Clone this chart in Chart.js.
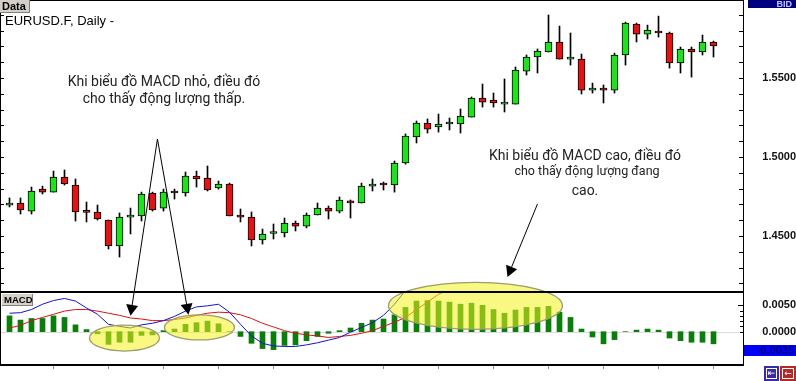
<!DOCTYPE html>
<html>
<head>
<meta charset="utf-8">
<script src="https://cdn.jsdelivr.net/npm/chart.js@4.4.1/dist/chart.umd.min.js"></script>
<style>
  html, body { margin: 0; padding: 0; background: #fff; }
</style>
</head>
<body>
<canvas id="macdChart" width="796" height="381"></canvas>
<script>
// EURUSD.F daily candles
const opens = [
  1.4696, 1.4709, 1.4658, 1.4797, 1.4778, 1.4873, 1.4823, 1.4655, 1.4652, 1.4601,
  1.4437, 1.4620, 1.4627, 1.4772, 1.4677, 1.4785, 1.4772, 1.4880, 1.4867, 1.4804,
  1.4829, 1.4633, 1.4620, 1.4475, 1.4516, 1.4519, 1.4582, 1.4563, 1.4633, 1.4677,
  1.4658, 1.4722, 1.4709, 1.4816, 1.4835, 1.4823, 1.4962, 1.5127, 1.5215, 1.5190,
  1.5209, 1.5209, 1.5253, 1.5373, 1.5361, 1.5335, 1.5335, 1.5544, 1.5633, 1.5665,
  1.5728, 1.5620, 1.5620, 1.5424, 1.5437, 1.5424, 1.5646, 1.5842, 1.5778, 1.5797,
  1.5785, 1.5595, 1.5684, 1.5665, 1.5728
];
const highs = [
  1.4741, 1.4741, 1.4810, 1.4816, 1.4911, 1.4918, 1.4861, 1.4715, 1.4696, 1.4601,
  1.4646, 1.4677, 1.4778, 1.4778, 1.4797, 1.4797, 1.4905, 1.4911, 1.4943, 1.4848,
  1.4835, 1.4671, 1.4652, 1.4544, 1.4576, 1.4614, 1.4595, 1.4646, 1.4709, 1.4690,
  1.4747, 1.4728, 1.4835, 1.4861, 1.4842, 1.4975, 1.5146, 1.5228, 1.5241, 1.5272,
  1.5247, 1.5304, 1.5380, 1.5462, 1.5405, 1.5494, 1.5570, 1.5646, 1.5684, 1.5899,
  1.5829, 1.5785, 1.5652, 1.5468, 1.5456, 1.5658, 1.5854, 1.5848, 1.5835, 1.5892,
  1.5791, 1.5696, 1.5696, 1.5772, 1.5734
];
const lows = [
  1.4684, 1.4639, 1.4639, 1.4766, 1.4778, 1.4823, 1.4595, 1.4589, 1.4601, 1.4418,
  1.4367, 1.4513, 1.4595, 1.4658, 1.4658, 1.4734, 1.4753, 1.4810, 1.4785, 1.4797,
  1.4627, 1.4589, 1.4437, 1.4449, 1.4481, 1.4494, 1.4532, 1.4551, 1.4633, 1.4608,
  1.4646, 1.4614, 1.4709, 1.4785, 1.4791, 1.4778, 1.4955, 1.5089, 1.5152, 1.5158,
  1.5171, 1.5152, 1.5253, 1.5316, 1.5316, 1.5285, 1.5335, 1.5519, 1.5532, 1.5665,
  1.5620, 1.5582, 1.5399, 1.5405, 1.5342, 1.5405, 1.5582, 1.5728, 1.5747, 1.5759,
  1.5563, 1.5532, 1.5506, 1.5646, 1.5633
];
const closes = [
  1.4709, 1.4665, 1.4785, 1.4778, 1.4873, 1.4829, 1.4652, 1.4650, 1.4608, 1.4437,
  1.4620, 1.4622, 1.4766, 1.4665, 1.4778, 1.4772, 1.4880, 1.4861, 1.4791, 1.4829,
  1.4627, 1.4620, 1.4475, 1.4513, 1.4519, 1.4582, 1.4563, 1.4633, 1.4677, 1.4658,
  1.4728, 1.4709, 1.4816, 1.4829, 1.4823, 1.4962, 1.5133, 1.5215, 1.5177, 1.5209,
  1.5212, 1.5259, 1.5373, 1.5348, 1.5342, 1.5338, 1.5551, 1.5633, 1.5671, 1.5728,
  1.5620, 1.5623, 1.5424, 1.5437, 1.5424, 1.5646, 1.5848, 1.5778, 1.5804, 1.5785,
  1.5595, 1.5684, 1.5665, 1.5728, 1.5703
];

// MACD panel
const histogram = [
  0.0030, 0.0022, 0.0025, 0.0025, 0.0030, 0.0027, 0.0013, 0.0004, -0.0004, -0.0024,
  -0.0020, -0.0020, -0.0007, -0.0006, 0.0002, 0.0005, 0.0014, 0.0017, 0.0020, 0.0015,
  0.0000, -0.0009, -0.0022, -0.0032, -0.0034, -0.0026, -0.0025, -0.0017, -0.0009, -0.0003,
  0.0002, 0.0007, 0.0016, 0.0022, 0.0024, 0.0032, 0.0046, 0.0058, 0.0059, 0.0058,
  0.0056, 0.0052, 0.0054, 0.0050, 0.0042, 0.0035, 0.0041, 0.0046, 0.0046, 0.0048,
  0.0037, 0.0027, 0.0005, -0.0010, -0.0023, -0.0015, 0.0000, 0.0003, 0.0005, 0.0003,
  -0.0012, -0.0017, -0.0020, -0.0020, -0.0023
];
// lines leave the top of the panel and are not seen again
const macdLine = [
  0.0035, 0.0036, 0.0042, 0.0052, 0.0059, 0.0063, 0.0058, 0.0045, 0.0033, 0.0014,
  0.0010, 0.0007, 0.0013, 0.0016, 0.0021, 0.0029, 0.0039, 0.0047, 0.0049, 0.0052,
  0.0037, 0.0014, -0.0008, -0.0022, -0.0027, -0.0028, -0.0028, -0.0025, -0.0021, -0.0016,
  -0.0011, -0.0001, 0.0008, 0.0017, 0.0031, 0.0052, 0.0078
];
const signalLine = [
  0.0007, 0.0012, 0.0021, 0.0027, 0.0033, 0.0039, 0.0042, 0.0042, 0.0039, 0.0035,
  0.0031, 0.0026, 0.0024, 0.0021, 0.0021, 0.0023, 0.0026, 0.0031, 0.0035, 0.0037,
  0.0036, 0.0032, 0.0025, 0.0016, 0.0009, 0.0002, -0.0003, -0.0006, -0.0008, -0.0011,
  -0.0009, -0.0007, -0.0003, 0.0002, 0.0010, 0.0018, 0.0027, 0.0042, 0.0056, 0.0071,
  0.0080
];

// axis ticks
const priceTicks = [1.42, 1.43, 1.44, 1.45, 1.46, 1.47, 1.48, 1.49, 1.50, 1.51,
                    1.52, 1.53, 1.54, 1.55, 1.56, 1.57, 1.58, 1.59];
const priceLabels = [1.45, 1.50, 1.55];
const macdTicks = [0, 0.001, 0.002, 0.003, 0.004, 0.005];
const macdLabels = [0, 0.005];
const dayTicks = [4, 9, 14, 19, 24, 29, 34, 39, 44, 49, 54, 59, 64];

const lowNote = ['Khi biểu đồ MACD nhỏ, điều đó', 'cho thấy động lượng thấp.'];
const highNote = ['Khi biểu đồ MACD cao, điều đó', 'cho thấy động lượng đang', 'cao.'];

const bodyColors = closes.map((c, i) => c >= opens[i] ? '#20e020' : '#e01414');

function drawArrow(ctx, x0, y0, x1, y1) {
  const a = Math.atan2(y1 - y0, x1 - x0);
  const len = 11, half = 6;
  const bx = x1 - len * Math.cos(a), by = y1 - len * Math.sin(a);
  ctx.beginPath();
  ctx.moveTo(x0, y0);
  ctx.lineTo(bx, by);
  ctx.stroke();
  ctx.beginPath();
  ctx.moveTo(x1, y1);
  ctx.lineTo(bx + half * Math.sin(a), by - half * Math.cos(a));
  ctx.lineTo(bx - half * Math.sin(a), by + half * Math.cos(a));
  ctx.closePath();
  ctx.fill();
}

function tab(ctx, x, y, w, h, text, size) {
  ctx.fillStyle = '#d4d0c8';
  ctx.fillRect(x, y, w, h);
  ctx.fillStyle = '#808080';
  ctx.fillRect(x + w - 1, y, 1, h);
  ctx.fillRect(x, y + h - 1, w, 1);
  ctx.fillStyle = '#000';
  ctx.font = 'bold ' + size + 'px "Liberation Sans"';
  ctx.textAlign = 'left';
  ctx.textBaseline = 'middle';
  ctx.fillText(text, x + 2, y + h / 2 + 0.5);
}

const overlay = {
  id: 'overlay',
  beforeDatasetsDraw(chart) {
    const {ctx, chartArea} = chart;
    const z = Math.round(chart.scales.y2.getPixelForValue(0)) + 0.5;
    ctx.save();
    ctx.strokeStyle = '#dcdcdc';
    ctx.lineWidth = 1;
    ctx.beginPath();
    ctx.moveTo(chartArea.left, z);
    ctx.lineTo(chartArea.right, z);
    ctx.stroke();
    ctx.restore();
  },
  afterDraw(chart) {
    const {ctx, chartArea} = chart;
    const {x, y, y2} = chart.scales;
    ctx.save();

    // highlight ellipses
    const ellipses = [
      {i: 10.45, v: -0.0012, rx: 35, ry: 13},
      {i: 17.27, v: 0.0008, rx: 35, ry: 12.5},
      {i: 42.36, v: 0.0049, rx: 87, ry: 23.5}
    ];
    ellipses.forEach(e => {
      ctx.beginPath();
      ctx.ellipse(x.getPixelForValue(e.i), y2.getPixelForValue(e.v), e.rx, e.ry, 0, 0, Math.PI * 2);
      ctx.fillStyle = 'rgba(242,242,30,0.55)';
      ctx.fill();
      ctx.strokeStyle = '#9c9c6c';
      ctx.lineWidth = 1.3;
      ctx.stroke();
    });

    // frame
    const right = chartArea.right;
    ctx.fillStyle = '#000';
    ctx.fillRect(0, 0, right + 1, 1);
    ctx.fillRect(0, 0, 1, chartArea.bottom + 1);
    ctx.fillRect(0, y.bottom - 1, right + 1, 2);
    ctx.fillRect(0, chartArea.bottom - 1, right + 1, 2);
    ctx.fillRect(right, 0, 1, chartArea.bottom + 1);

    // inner tick marks on both edges
    priceTicks.forEach(v => {
      const py = Math.round(y.getPixelForValue(v));
      ctx.fillRect(right - 4, py, 4, 1);
      ctx.fillRect(1, py, 3, 1);
    });
    macdTicks.forEach(v => {
      const py = Math.round(y2.getPixelForValue(v));
      const w = v === 0.005 ? 5 : 3;
      ctx.fillRect(right - w, py, w, 1);
    });

    // arrows
    ctx.strokeStyle = '#000';
    ctx.fillStyle = '#000';
    ctx.lineWidth = 1;
    const ax = x.getPixelForValue(13.45), ay = y.getPixelForValue(1.5114);
    drawArrow(ctx, ax, ay, x.getPixelForValue(11.0), y2.getPixelForValue(0.0030));
    drawArrow(ctx, ax, ay, x.getPixelForValue(16.27), y2.getPixelForValue(0.0032));
    drawArrow(ctx, x.getPixelForValue(48.0), y.getPixelForValue(1.4703),
              x.getPixelForValue(45.27), y.getPixelForValue(1.4240));

    // notes
    ctx.fillStyle = '#222';
    ctx.textAlign = 'center';
    ctx.textBaseline = 'middle';
    ctx.font = '14px Roboto';
    ctx.fillText(lowNote[0], 164, 82);
    ctx.fillText(lowNote[1], 164, 99);
    ctx.fillText(highNote[0], 585, 156);
    ctx.font = '12.5px Roboto';
    ctx.fillText(highNote[1], 587, 172);
    ctx.font = '14px Roboto';
    ctx.fillText(highNote[2], 585, 191);

    // title and tabs
    ctx.fillStyle = '#000';
    ctx.textAlign = 'left';
    ctx.font = '13px "Liberation Sans"';
    ctx.fillText('EURUSD.F, Daily -', 5, 21);
    tab(ctx, 0, 0, 30, 13, 'Data', 11);
    tab(ctx, 2, 294, 31, 12, 'MACD', 9.5);

    // BID box
    ctx.fillStyle = '#000080';
    ctx.fillRect(right + 5, 0, chart.width - right - 5, 8);
    ctx.fillStyle = '#c8c8ff';
    ctx.font = 'bold 9px "Liberation Sans"';
    ctx.textAlign = 'right';
    ctx.fillText('BID', chart.width - 4, 4.5);

    // last MACD value marker
    const my = y2.getPixelForValue(-0.0035);
    ctx.fillStyle = '#0000ff';
    ctx.fillRect(right + 1, Math.round(my) - 5, chart.width - right - 1, 11);
    ctx.fillStyle = '#000070';
    ctx.font = 'bold 11px "Liberation Sans"';
    ctx.fillText('-0.0035', chart.width - 2, my + 0.5);

    // scroll buttons
    const by = chartArea.bottom + 1;
    ctx.fillStyle = '#3a2aa6';
    ctx.fillRect(764, by, 15, 15);
    ctx.fillStyle = '#b42828';
    ctx.fillRect(780, by, 16, 15);
    ctx.strokeStyle = '#fff';
    ctx.lineWidth = 1;
    ctx.strokeRect(766.5, by + 2.5, 10, 10);
    ctx.strokeRect(782.5, by + 2.5, 11, 10);
    ctx.fillStyle = '#fff';
    ctx.font = '9px "DejaVu Sans"';
    ctx.textAlign = 'center';
    ctx.fillText('⇤', 771.5, by + 8);
    ctx.fillText('←', 788, by + 8);

    ctx.restore();
  }
};

const yFit = s => { s.width = 53; s.paddingTop = 0; s.paddingBottom = 0; };
const tickFont = {family: 'Liberation Sans', weight: 'bold', size: 11};

new Chart(document.getElementById('macdChart'), {
  type: 'bar',
  data: {
    datasets: [
      {
        type: 'line', label: 'MACD', yAxisID: 'y2', order: 0,
        data: macdLine.map((v, i) => ({x: i, y: v})),
        borderColor: '#1414c8', borderWidth: 1, pointRadius: 0, tension: 0
      },
      {
        type: 'line', label: 'Signal', yAxisID: 'y2', order: 1,
        data: signalLine.map((v, i) => ({x: i, y: v})),
        borderColor: '#d41414', borderWidth: 1, pointRadius: 0, tension: 0
      },
      {
        label: 'Histogram', yAxisID: 'y2', order: 2, grouped: false,
        data: histogram.map((v, i) => ({x: i, y: v})),
        backgroundColor: '#0a7d0a', barThickness: 5, maxBarThickness: 5
      },
      {
        label: 'Body', yAxisID: 'y', order: 3, grouped: false,
        data: opens.map((o, i) => ({x: i, y: [o, closes[i]]})),
        backgroundColor: bodyColors, borderColor: '#000', borderWidth: 1,
        borderSkipped: false, barThickness: 7, maxBarThickness: 7, minBarLength: 2
      },
      {
        label: 'Wick', yAxisID: 'y', order: 4, grouped: false,
        data: lows.map((l, i) => ({x: i, y: [l, highs[i]]})),
        backgroundColor: '#000', barThickness: 1, maxBarThickness: 1
      }
    ]
  },
  options: {
    responsive: false,
    animation: false,
    layout: {padding: {left: 1, top: 0, right: 0, bottom: 0}},
    plugins: {
      legend: {display: false},
      tooltip: {enabled: false}
    },
    scales: {
      x: {
        type: 'linear',
        offset: false,
        min: -0.7727,
        max: 66.6818,
        border: {display: false},
        grid: {offset: false, drawOnChartArea: false, drawTicks: true, tickLength: 4, color: '#8c8c8c'},
        ticks: {display: false},
        afterBuildTicks: s => { s.ticks = dayTicks.map(v => ({value: v})); },
        afterFit: s => { s.height = 16; s.paddingLeft = 0; s.paddingRight = 0; }
      },
      y: {
        type: 'linear',
        position: 'right',
        stack: 'panels',
        stackWeight: 292,
        min: 1.41456,
        max: 1.5994,
        border: {display: false},
        grid: {display: false, drawTicks: false},
        ticks: {
          autoSkip: false, crossAlign: 'far', padding: 16, color: '#111', font: tickFont,
          callback: v => priceLabels.includes(v) ? v.toFixed(4) : ''
        },
        afterBuildTicks: s => { s.ticks = priceTicks.map(v => ({value: v})); },
        afterFit: yFit
      },
      y2: {
        type: 'linear',
        position: 'right',
        stack: 'panels',
        stackWeight: 73,
        min: -0.00631,
        max: 0.00752,
        border: {display: false},
        grid: {display: false, drawTicks: false},
        ticks: {
          autoSkip: false, crossAlign: 'far', padding: 16, color: '#111', font: tickFont,
          callback: v => macdLabels.includes(v) ? v.toFixed(4) : ''
        },
        afterBuildTicks: s => { s.ticks = macdTicks.map(v => ({value: v})); },
        afterFit: yFit
      }
    }
  },
  plugins: [overlay]
});
</script>
</body>
</html>
